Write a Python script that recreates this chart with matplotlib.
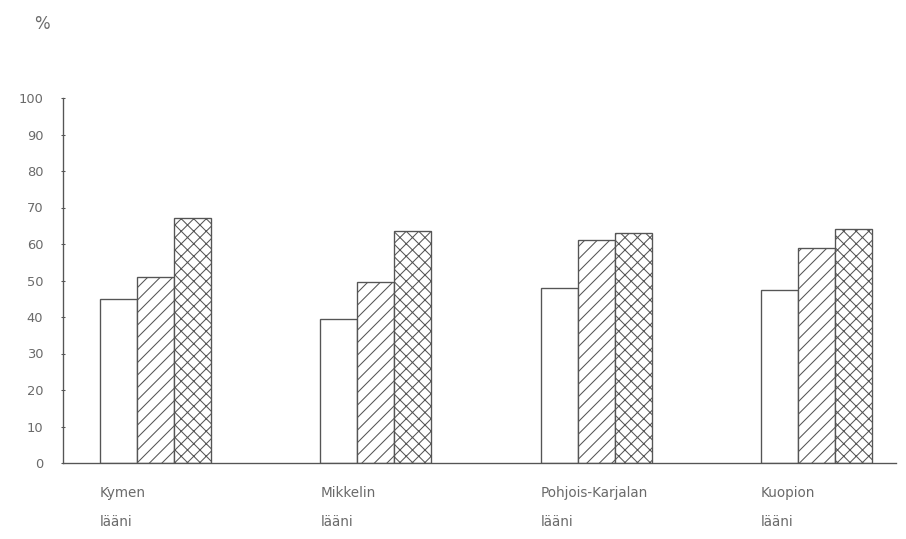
import matplotlib
matplotlib.use("Agg")
import matplotlib.pyplot as plt
import numpy as np

regions = ["Kymen", "Mikkelin", "Pohjois-Karjalan", "Kuopion"]
region_suffix = "lääni"
series_a = [45.0, 39.5, 48.0, 47.5]   # open bars
series_b = [51.0, 49.5, 61.0, 59.0]   # diagonal hatch
series_c = [67.0, 63.5, 63.0, 64.0]   # cross hatch
yticks = list(range(0, 101, 10))

DPI = 75
W, H = 906, 539
plt.rcParams['font.family'] = ['DejaVu Sans']
plt.rcParams['hatch.linewidth'] = 1.0
fig = plt.figure(figsize=(W / DPI, H / DPI), dpi=DPI)
fig.patch.set_facecolor('white')

ax_left, ax_right, ax_top, ax_bottom = 63, 896, 98, 463
ax = fig.add_axes([ax_left / W, (H - ax_bottom) / H,
                   (ax_right - ax_left) / W, (ax_bottom - ax_top) / H])

line_col = '#555555'
text_col = '#6a6a6a'

x = np.arange(len(regions))
bw = 37 / 220.3
ax.bar(x - bw, series_a, bw, facecolor='white', edgecolor=line_col, linewidth=1.3)
ax.bar(x, series_b, bw, facecolor='white', edgecolor=line_col, hatch='//', linewidth=1.3)
ax.bar(x + bw, series_c, bw, facecolor='white', edgecolor=line_col, hatch='xx', linewidth=1.3)

left0 = -1.5 * bw
xspan = (ax_right - ax_left) / 220.3
xmin = left0 - (100 - ax_left) / 220.3
ax.set_xlim(xmin, xmin + xspan)
ax.set_ylim(0, 100)

for s in ['top', 'right']:
    ax.spines[s].set_visible(False)
for s in ['left', 'bottom']:
    ax.spines[s].set_color(line_col)
    ax.spines[s].set_linewidth(1.3)

ax.set_yticks(yticks)
ax.set_yticklabels([str(t) for t in yticks], color=text_col, fontsize=12.5)
ax.tick_params(axis='y', direction='inout', length=4, width=1, colors=line_col,
               labelcolor=text_col, pad=17)
ax.set_xticks([])

trans = ax.get_xaxis_transform()
for i, name in enumerate(regions):
    xl = x[i] - 1.5 * bw
    ax.text(xl, -(493 - ax_bottom) / (ax_bottom - ax_top), name, transform=trans,
            ha='left', va='center', fontsize=13, color=text_col, clip_on=False)
    ax.text(xl, -(522 - ax_bottom) / (ax_bottom - ax_top), region_suffix, transform=trans,
            ha='left', va='center', fontsize=13, color=text_col, clip_on=False)

fig.text(42 / W, 1 - 24 / H, '%', ha='center', va='center', fontsize=16, color=text_col)

fig.savefig('out.png', dpi=DPI, facecolor='white')
